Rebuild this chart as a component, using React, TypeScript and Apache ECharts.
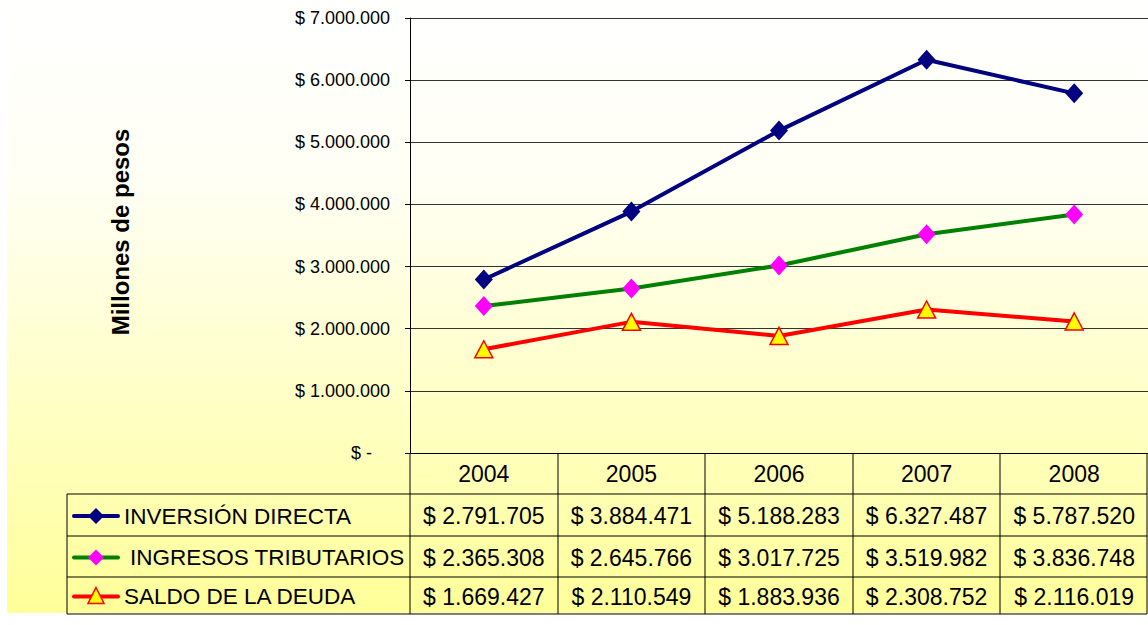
import React, { useEffect, useRef } from "react";
import * as echarts from "echarts";

const years = ["2004", "2005", "2006", "2007", "2008"];
const inversionDirecta = [2791705, 3884471, 5188283, 6327487, 5787520];
const ingresosTributarios = [2365308, 2645766, 3017725, 3519982, 3836748];
const saldoDeuda = [1669427, 2110549, 1883936, 2308752, 2116019];
const seriesNames = ["INVERSIÓN DIRECTA", "INGRESOS TRIBUTARIOS", "SALDO DE LA DEUDA"];
const yMin = 0;
const yMax = 7000000;
const yStep = 1000000;
const axisTitle = "Millones de pesos";

const FONT = "'Liberation Sans', Arial, sans-serif";

const fmt = (n: number) =>
  "$ " + String(Math.round(n)).replace(/\B(?=(\d{3})+(?!\d))/g, ".");

export default function App() {
  const ref = useRef<HTMLDivElement>(null);
  useEffect(() => {
    if (!ref.current) return;
    const chart = echarts.init(ref.current, null, { renderer: "svg" });

    const W = 1148;
    const gridLeft = 410;
    const gridTop = 18;
    const gridBottomY = 453;
    const gridRight = 0;
    const plotW = W - gridLeft - gridRight;
    const colW = plotW / years.length;
    const rowLines = [494, 536, 577, 614];
    const tableLeft = 67;
    const tableRight = 1147;

    const colors = ["#000080", "#008000", "#FF0000"];
    const allSeries = [inversionDirecta, ingresosTributarios, saldoDeuda];

    const graphics: any[] = [];
    graphics.push({
      type: "rect",
      z: -10,
      silent: true,
      shape: { x: 7, y: 0, width: W - 7, height: 613 },
      style: {
        fill: new echarts.graphic.LinearGradient(0, 0, 0, 1, [
          { offset: 0, color: "#FFFFFF" },
          { offset: 0.3, color: "#FFFFF4" },
          { offset: 1, color: "#FFFF99" },
        ]),
      },
    });
    rowLines.forEach((y) => {
      graphics.push({
        type: "line",
        z: 5,
        shape: { x1: tableLeft, y1: y, x2: tableRight, y2: y },
        style: { stroke: "#000", lineWidth: 1 },
      });
    });
    const vxs = [tableLeft];
    for (let i = 0; i <= years.length; i++) vxs.push(Math.round(gridLeft + i * colW));
    vxs.forEach((x, i) => {
      const xx = i === 0 ? x : Math.min(x, tableRight);
      graphics.push({
        type: "line",
        z: 5,
        shape: { x1: xx, y1: i === 0 ? rowLines[0] : gridBottomY, x2: xx, y2: rowLines[3] },
        style: { stroke: "#000", lineWidth: 1 },
      });
    });
    allSeries.forEach((vals, r) => {
      const cy = (rowLines[r] + rowLines[r + 1]) / 2 + 1;
      vals.forEach((v, c) => {
        graphics.push({
          type: "text",
          z: 6,
          style: {
            x: gridLeft + (c + 0.5) * colW,
            y: cy,
            text: fmt(v),
            fill: "#000",
            font: `23px ${FONT}`,
            align: "center",
            verticalAlign: "middle",
          },
        });
      });
      graphics.push({
        type: "line",
        z: 6,
        shape: { x1: 74, y1: cy, x2: 118, y2: cy },
        style: { stroke: colors[r], lineWidth: 4, lineCap: "round" },
      });
      const mx = 96;
      if (r === 2) {
        graphics.push({
          type: "polygon",
          z: 7,
          shape: { points: [[mx, cy - 9], [mx + 8, cy + 7], [mx - 8, cy + 7]] },
          style: { fill: "#FFFF00", stroke: "#FF0000", lineWidth: 1.5 },
        });
      } else {
        graphics.push({
          type: "polygon",
          z: 7,
          shape: { points: [[mx, cy - 8], [mx + 8, cy], [mx, cy + 8], [mx - 8, cy]] },
          style: { fill: r === 0 ? "#000080" : "#FF00FF" },
        });
      }
      graphics.push({
        type: "text",
        z: 6,
        style: {
          x: r === 1 ? 130 : 124,
          y: cy,
          text: seriesNames[r],
          fill: "#000",
          font: `22.5px ${FONT}`,
          align: "left",
          verticalAlign: "middle",
        },
      });
    });
    graphics.push({
      type: "text",
      z: 6,
      x: 120,
      y: 232,
      rotation: Math.PI / 2,
      style: {
        x: 0,
        y: 0,
        text: axisTitle,
        fill: "#000",
        font: `bold 24px ${FONT}`,
        align: "center",
        verticalAlign: "middle",
      },
    });

    const mkSeries = (i: number) => {
      const base: any = {
        name: seriesNames[i],
        type: "line",
        data: allSeries[i],
        lineStyle: { color: colors[i], width: 4 },
        z: 10 - i,
      };
      if (i === 0) {
        base.symbol = "diamond";
        base.symbolSize = [18, 20];
        base.itemStyle = { color: "#000080" };
      } else if (i === 1) {
        base.symbol = "diamond";
        base.symbolSize = [18, 20];
        base.itemStyle = { color: "#FF00FF" };
      } else {
        base.symbol = "triangle";
        base.symbolSize = [18, 17];
        base.itemStyle = { color: "#FFFF00", borderColor: "#FF0000", borderWidth: 1.5 };
      }
      return base;
    };

    chart.setOption({
      animation: false,
      backgroundColor: "transparent",
      grid: {
        left: gridLeft,
        right: gridRight,
        top: gridTop,
        bottom: 625 - gridBottomY,
        containLabel: false,
      },
      xAxis: {
        type: "category",
        data: years,
        boundaryGap: true,
        axisLine: { lineStyle: { color: "#000", width: 1 } },
        axisTick: { show: false },
        axisLabel: {
          color: "#000",
          fontSize: 23,
          fontFamily: FONT,
          margin: 9,
        },
        splitLine: { show: false },
      },
      yAxis: {
        type: "value",
        min: yMin,
        max: yMax,
        interval: yStep,
        axisLine: { show: true, lineStyle: { color: "#000", width: 1 } },
        axisTick: { show: true, length: 5, lineStyle: { color: "#000" } },
        axisLabel: {
          color: "#000",
          fontSize: 18,
          fontFamily: FONT,
          margin: 20,
          formatter: (v: number) => (v === 0 ? "{z|$ -}" : fmt(v)),
          rich: { z: { fontSize: 18, fontFamily: FONT, color: "#000", padding: [0, 18, 0, 0] } },
        },
        splitLine: { show: true, lineStyle: { color: "#333", width: 1 } },
      },
      series: [mkSeries(0), mkSeries(1), mkSeries(2)],
      graphic: { elements: graphics },
    });

    return () => chart.dispose();
  }, []);

  return (
    <div
      ref={ref}
      style={{ position: "fixed", left: 0, top: 0, width: 1148, height: 625, background: "#fff" }}
    />
  );
}
